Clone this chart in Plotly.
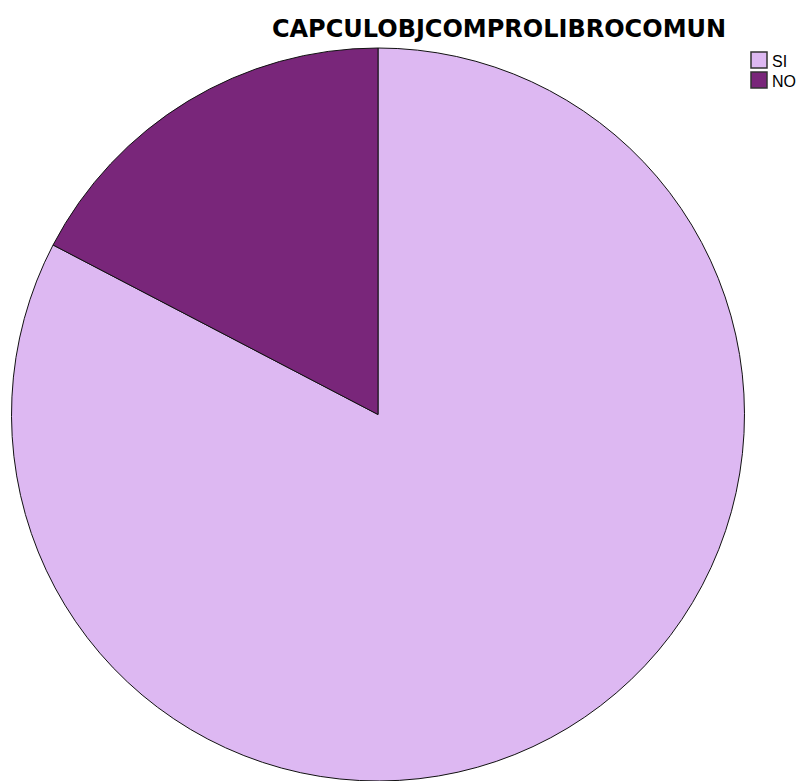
import plotly.graph_objects as go

# Response counts for the survey item
labels = ["SI", "NO"]
counts = [81, 17]
colors = ["#DDB8F2", "#79267A"]

W, H = 798, 781
M_L, M_R, M_T, M_B = 10, 52, 48, 0
PLOT_W = W - M_L - M_R
PLOT_H = H - M_T - M_B


def px_x(x):
    """Pixel column -> paper x fraction."""
    return (x - M_L) / PLOT_W


def px_y(y):
    """Pixel row (from top) -> paper y fraction."""
    return 1 - (y - M_T) / PLOT_H


fig = go.Figure(
    go.Pie(
        labels=labels,
        values=counts,
        sort=False,
        direction="clockwise",
        rotation=0,
        textinfo="none",
        hoverinfo="label+value+percent",
        marker=dict(colors=colors, line=dict(color="#111111", width=1)),
        domain=dict(x=[0, 1], y=[0, 1]),
        showlegend=False,
    )
)

# Legend drawn as boxed swatches with labels
shapes = []
annotations = []
box_left, box_size, row_top, row_step = 751, 16, 52, 20
for i, (lab, col) in enumerate(zip(labels, colors)):
    top = row_top + i * row_step
    shapes.append(
        dict(
            type="rect",
            xref="paper",
            yref="paper",
            x0=px_x(box_left),
            x1=px_x(box_left + box_size),
            y0=px_y(top + box_size),
            y1=px_y(top),
            fillcolor=col,
            line=dict(color="#333333", width=1.5),
        )
    )
    annotations.append(
        dict(
            text=lab,
            xref="paper",
            yref="paper",
            x=px_x(box_left + box_size + 3),
            y=px_y(top + box_size / 2 + 1),
            xanchor="left",
            yanchor="middle",
            showarrow=False,
            font=dict(family="Liberation Sans, Arial, sans-serif", size=16, color="#000000"),
        )
    )

fig.update_layout(
    width=W,
    height=H,
    margin=dict(l=M_L, r=M_R, t=M_T, b=M_B, autoexpand=False),
    paper_bgcolor="white",
    plot_bgcolor="white",
    title=dict(
        text="<b>CAPCULOBJCOMPROLIBROCOMUN</b>",
        x=499 / W,
        xanchor="center",
        y=1 - 29 / H,
        yanchor="middle",
        font=dict(family="DejaVu Sans, sans-serif", size=24, color="#000000"),
    ),
    shapes=shapes,
    annotations=annotations,
    showlegend=False,
)

fig.write_html("out.html")
